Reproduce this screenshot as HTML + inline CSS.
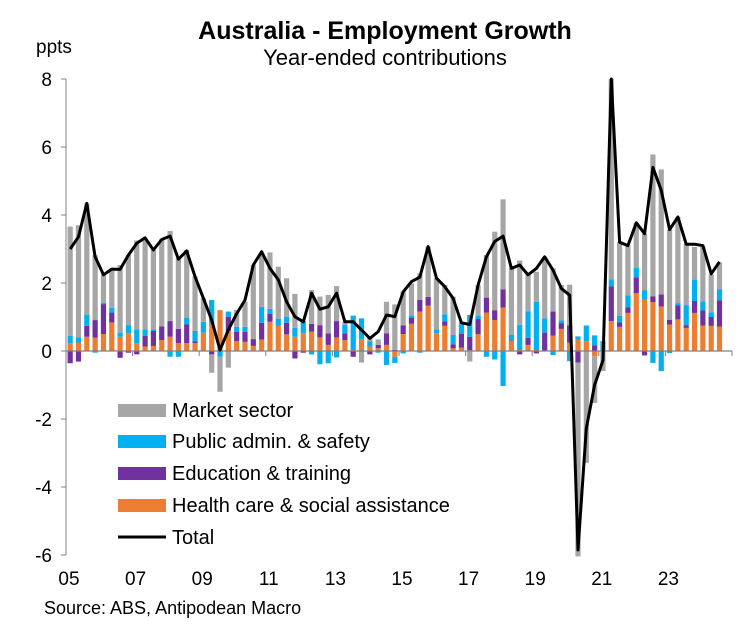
<!DOCTYPE html>
<html><head><meta charset="utf-8"><style>
body{margin:0;background:#fff;}
svg{display:block;font-family:"Liberation Sans",Arial,sans-serif;}
</style></head><body>
<svg id="chart" width="745" height="626" viewBox="0 0 745 626">
<text x="385" y="39" text-anchor="middle" font-size="25" font-weight="bold">Australia - Employment Growth</text>
<text x="385" y="65" text-anchor="middle" font-size="22">Year-ended contributions</text>
<text x="36" y="53" font-size="19">ppts</text>
<text x="44" y="614" font-size="18">Source: ABS, Antipodean Macro</text>
<g id="bars"></g>
<g id="axes"></g>
<g id="lines"></g>
<g id="legend">
<rect x="118" y="404" width="48" height="13" fill="#a6a6a6"/>
<text x="172" y="417" font-size="20">Market sector</text>
<rect x="118" y="435" width="48" height="13" fill="#00b0f0"/>
<text x="172" y="448" font-size="20">Public admin. &amp; safety</text>
<rect x="118" y="467" width="48" height="13" fill="#7030a0"/>
<text x="172" y="480" font-size="20">Education &amp; training</text>
<rect x="118" y="499" width="48" height="13" fill="#ed7d31"/>
<text x="172" y="512" font-size="20">Health care &amp; social assistance</text>
<line x1="118" y1="537" x2="166" y2="537" stroke="#000" stroke-width="3"/>
<text x="172" y="544" font-size="20">Total</text>
</g>
</svg>
<script>
const health=[.23,.25,.42,.39,.5,.84,.42,.52,.23,.13,.15,.32,.42,.23,.23,.23,.54,.81,1.2,.59,.29,.27,.15,.34,.86,.75,.49,.42,.52,.57,.4,.18,.4,.32,.03,.35,.13,.08,.18,-.17,.5,.8,1.16,1.33,.52,.74,.08,.1,.03,.5,1.13,.91,1.28,.3,.03,.18,.03,0,.45,.65,.25,.33,.29,-.15,0,.88,.71,1.12,1.7,1.51,1.44,1.31,.78,.93,.68,1.12,.75,.74,.72];
const education=[-.36,-.31,.32,.52,.88,.29,-.2,-.05,-.1,.32,.44,.4,.46,.42,.55,.05,0,-.1,0,.42,.27,.29,.2,.49,.23,0,.34,-.22,-.05,.23,.36,.34,.48,.2,-.17,0,-.1,.1,.34,.03,.25,.17,.34,.26,0,.13,.12,.4,.39,.44,.44,.29,.53,.02,-.1,.21,-.07,.54,.71,.17,.5,-.34,0,.17,0,1.02,.13,.16,.47,-.13,.17,.35,.14,.41,.08,.35,.44,.26,.77];
const publicAdmin=[.22,.15,.33,-.05,.04,.14,.12,.24,.41,.19,.05,0,-.17,-.17,.2,.31,.32,.69,-.17,.15,.15,.15,0,.47,.15,.2,.18,.26,.36,-.1,-.39,-.36,-.19,.25,1.01,.61,.15,-.05,-.41,-.18,-.07,.08,-.05,0,.12,.21,.27,.29,.64,.09,-.17,-.25,-1.03,.15,.74,.78,1.42,.42,-.12,.08,-.3,.1,.46,.29,.29,.21,.19,.36,.27,.27,-.35,-.59,-.06,.07,.59,.63,.27,.14,.32];
const market=[3.21,3.3,3.27,1.91,.86,1.16,1.99,2.06,2.61,2.67,2.33,2.57,2.65,2.08,1.99,1.6,.69,-.54,-1.03,-.49,.5,.74,2.18,1.57,1.66,1.53,1.13,1.0,0,.99,.84,1.13,1.03,.09,0,-.34,.1,.16,.93,1.34,1.0,.94,.78,1.48,1.5,.86,1.13,.06,-.31,.91,1.25,2.31,2.65,1.98,1.89,1.11,.88,1.81,1.27,1.04,1.2,-5.7,-3.29,-1.38,-.59,5.89,2.17,1.46,1.33,1.67,4.17,3.68,2.65,2.53,1.79,.96,1.6,1.11,.79];
const total=[3.0,3.36,4.34,2.77,2.24,2.41,2.4,2.82,3.17,3.33,2.97,3.28,3.38,2.7,2.94,2.19,1.55,.91,.03,.62,1.1,1.5,2.53,2.92,2.43,2.09,1.45,1.01,.86,1.7,1.23,1.3,1.7,.86,.86,.62,.37,.57,1.06,1.01,1.74,2.04,2.17,3.07,2.14,1.89,1.55,.83,.78,1.94,2.77,3.22,3.38,2.43,2.53,2.24,2.43,2.77,2.38,1.84,1.64,-5.85,-2.28,-1.0,-.27,8.0,3.2,3.1,3.77,3.45,5.4,4.73,3.57,3.94,3.14,3.14,3.1,2.27,2.62];
const yTicks=[8,6,4,2,0,-2,-4,-6];
const xTickLabels=["05","07","09","11","13","15","17","19","21","23"];
const startYear=2005;

const NS="http://www.w3.org/2000/svg";
const X0=66,X1=732,Y0=351,PX=34;
const qw=(X1-X0)/80;
function xq(i){return X0+qw*(i+0.5);}
function xy(year){return X0+(year-startYear)*4*qw;}
function yv(v){return Y0-v*PX;}
function mk(tag,attrs,parent){const e=document.createElementNS(NS,tag);for(const k in attrs)e.setAttribute(k,attrs[k]);parent.appendChild(e);return e;}
const bars=document.getElementById('bars'),axes=document.getElementById('axes'),lines=document.getElementById('lines');
const series=[[health,'#ed7d31','health'],[education,'#7030a0','education'],[publicAdmin,'#00b0f0','public-admin'],[market,'#a6a6a6','market']];
for(let i=0;i<total.length;i++){
  let pos=0,neg=0;
  for(const [arr,col,nm] of series){
    const v=arr[i];if(!v)continue;
    let a,b;
    if(v>0){a=pos;b=pos+v;pos=b;}else{a=neg;b=neg+v;neg=b;}
    const r=mk('rect',{x:xq(i)-2.6,y:Math.min(yv(a),yv(b)),width:5.2,height:Math.abs(yv(a)-yv(b)),fill:col},bars);
    
    
  }
}
let l=mk('line',{x1:X0,y1:yv(8),x2:X0,y2:yv(-6),stroke:'#808080','stroke-width':1},axes);


l=mk('line',{x1:X0,y1:Y0,x2:X1,y2:Y0,stroke:'#808080','stroke-width':1.2},axes);


for(const t of yTicks){
  const tk=mk('line',{x1:X0-5,y1:yv(t),x2:X0,y2:yv(t),stroke:'#808080'},axes);
  
  
  const tx=mk('text',{x:52,y:yv(t)+7,'text-anchor':'end','font-size':19},axes);
  tx.textContent=t;
  
  
}
for(let y=2005;y<=2025;y+=2){
  const tk=mk('line',{x1:xy(y),y1:Y0,x2:xy(y),y2:Y0+5,stroke:'#808080'},axes);
  
  
}
xTickLabels.forEach((s,k)=>{
  const tx=mk('text',{x:xy(startYear+2*k)+3,y:585,'text-anchor':'middle','font-size':19},axes);
  tx.textContent=s;
  
  
});
const pts=total.map((v,i)=>xq(i).toFixed(1)+','+yv(v).toFixed(1)).join(' ');
const pl=mk('polyline',{points:pts,fill:'none',stroke:'#000','stroke-width':3,'stroke-linejoin':'round'},lines);


</script>
</body></html>
